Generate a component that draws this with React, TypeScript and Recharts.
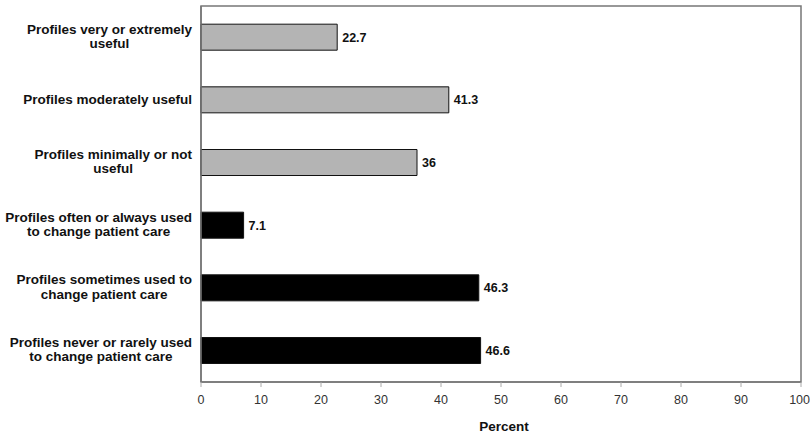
import React from 'react';
import { BarChart, Bar, XAxis, YAxis, Cell, LabelList, ReferenceArea } from 'recharts';

const categories = [
  'Profiles very or extremely\nuseful',
  'Profiles moderately useful',
  'Profiles minimally or not\nuseful',
  'Profiles often or always used\nto change patient care',
  'Profiles sometimes used to\nchange patient care',
  'Profiles never or rarely used\nto change patient care',
];
const percents = [22.7, 41.3, 36, 7.1, 46.3, 46.6];
const groups = ['useful', 'useful', 'useful', 'used', 'used', 'used'];
const xTicks = [0, 10, 20, 30, 40, 50, 60, 70, 80, 90, 100];

const data = categories.map((c, i) => ({ name: c, value: percents[i], group: groups[i] }));

const FONT = "'Liberation Sans', Arial, Helvetica, sans-serif";

let ctx: CanvasRenderingContext2D | null = null;
const measure = (s: string) => {
  if (!ctx) ctx = document.createElement('canvas').getContext('2d');
  if (!ctx) return s.length * 6.7;
  ctx.font = `bold 13.5px ${FONT}`;
  return ctx.measureText(s).width;
};

const CategoryTick = (props: any) => {
  const { x, y, payload } = props;
  const lines: string[] = String(payload.value).split('\n');
  const w = Math.max(...lines.map(measure));
  const right = x - 1;
  const cx = right - w / 2;
  const lh = 14.5;
  const start = y - ((lines.length - 1) * lh) / 2 - 1;
  return (
    <g>
      {lines.map((l, i) => (
        <text
          key={i}
          x={cx}
          y={start + i * lh}
          textAnchor="middle"
          dominantBaseline="central"
          fontFamily={FONT}
          fontSize={13.5}
          fontWeight="bold"
          fill="#111"
        >
          {l}
        </text>
      ))}
    </g>
  );
};

export default function App() {
  return (
    <div style={{ width: 810, height: 434, background: '#fff' }}>
      <style>{`body{margin:0}`}</style>
      <BarChart
        width={810}
        height={434}
        data={data}
        layout="vertical"
        margin={{ top: 6, right: 9, bottom: 0, left: 0 }}
        barCategoryGap="29%"
      >
        <XAxis
          type="number"
          domain={[0, 100]}
          ticks={xTicks}
          height={52}
          tickSize={5}
          tickMargin={8}
          axisLine={{ stroke: '#777', strokeWidth: 1.5 }}
          tickLine={{ stroke: '#aaa' }}
          tick={{ fontFamily: FONT, fontSize: 12.5, fill: '#333' }}
          label={{
            value: 'Percent',
            position: 'insideBottom',
            offset: 3,
            dx: 3,
            style: { fontFamily: FONT, fontSize: 13.5, fontWeight: 'bold', fill: '#111' },
          }}
        />
        <YAxis
          type="category"
          dataKey="name"
          width={201}
          axisLine={{ stroke: '#777', strokeWidth: 1.5 }}
          tickLine={false}
          tick={<CategoryTick />}
          interval={0}
        />
        <ReferenceArea x1={0} x2={100} fill="none" stroke="#777" strokeWidth={1.5} ifOverflow="visible" />
        <Bar dataKey="value" isAnimationActive={false} stroke="#111" strokeWidth={1}>
          {data.map((d, i) => (
            <Cell key={i} fill={d.group === 'useful' ? '#b4b4b4' : '#000'} />
          ))}
          <LabelList
            dataKey="value"
            position="right"
            offset={5}
            style={{ fontFamily: FONT, fontSize: 12.5, fontWeight: 'bold', fill: '#111' }}
          />
        </Bar>
      </BarChart>
    </div>
  );
}
